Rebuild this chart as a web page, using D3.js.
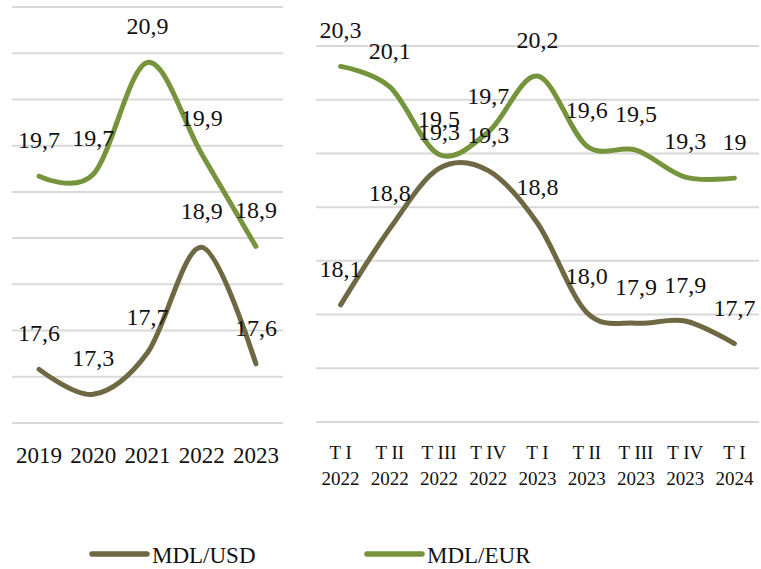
<!DOCTYPE html>
<html><head><meta charset="utf-8">
<script src="https://cdn.jsdelivr.net/npm/d3@7"></script>
<style>html,body{margin:0;padding:0;background:#fff}svg{display:block}</style>
</head><body><div id="chart"></div>
<script>
// ---- data ----
const yearCats = ["2019","2020","2021","2022","2023"];
const yearUSD = [17.58, 17.31, 17.76, 18.90, 17.64];
const yearEUR = [19.67, 19.69, 20.90, 19.91, 18.91];
const yearUSDLabels = ["17,6","17,3","17,7","18,9","17,6"];
const yearEURLabels = ["19,7","19,7","20,9","19,9","18,9"];

const qCats = [["T I","2022"],["T II","2022"],["T III","2022"],["T IV","2022"],["T I","2023"],["T II","2023"],["T III","2023"],["T IV","2023"],["T I","2024"]];
const qUSD = [18.09, 18.80, 19.36, 19.34, 18.85, 18.02, 17.92, 17.94, 17.73];
const qEUR = [20.31, 20.12, 19.49, 19.70, 20.22, 19.57, 19.53, 19.28, 19.27];
const qUSDLabels = ["18,1","18,8","19,3","19,3","18,8","18,0","17,9","17,9","17,7"];
const qEURLabels = ["20,3","20,1","19,5","19,7","20,2","19,6","19,5","19,3","19"];

const leftTicks = [17,17.5,18,18.5,19,19.5,20,20.5,21,21.5];
const rightTicks = [17,17.5,18,18.5,19,19.5,20,20.5];
const seriesNames = ["MDL/USD","MDL/EUR"];
const colors = {"MDL/USD":"#6e6843","MDL/EUR":"#76943c"};

const W = 761, H = 569;
const FONT = "'Liberation Serif', 'Times New Roman', serif";
const svg = d3.select("#chart").append("svg").attr("width",W).attr("height",H)
  .style("font-family",FONT);
svg.append("rect").attr("width",W).attr("height",H).attr("fill","#fff");

function panel(cats, usd, eur, usdL, eurL, ticks, x0, x1, y0, y1, catLabel){
  const x = d3.scaleBand().domain(d3.range(cats.length)).range([x0,x1]).padding(0);
  const y = d3.scaleLinear().domain([ticks[0], ticks[ticks.length-1]]).range([y0,y1]);
  const g = svg.append("g");
  g.selectAll("line.grid").data(ticks).join("line")
    .attr("x1",x0).attr("x2",x1).attr("y1",d=>y(d)).attr("y2",d=>y(d))
    .attr("stroke","#d9d9d9").attr("stroke-width",2);
  const cx = i => x(i)+x.bandwidth()/2;
  const line = d3.line().x((d,i)=>cx(i)).y(d=>y(d)).curve(d3.curveCardinal.tension(0));
  [["MDL/EUR",eur,eurL],["MDL/USD",usd,usdL]].forEach(([n,vals])=>{
    g.append("path").attr("d",line(vals)).attr("fill","none")
      .attr("stroke",colors[n]).attr("stroke-width",5).attr("stroke-linecap","round").attr("stroke-linejoin","round");
  });
  [[eur,eurL],[usd,usdL]].forEach(([vals,labs])=>{
    g.selectAll(null).data(vals).join("text")
      .attr("x",(d,i)=>cx(i)).attr("y",d=>y(d)-28)
      .attr("text-anchor","middle").attr("font-size",24).attr("fill","#111")
      .text((d,i)=>labs[i]);
  });
  catLabel(g, cats, cx);
}

panel(yearCats, yearUSD, yearEUR, yearUSDLabels, yearEURLabels, leftTicks, 12, 283, 423, 7,
  (g,cats,cx)=>{
    g.selectAll(null).data(cats).join("text")
      .attr("x",(d,i)=>cx(i)).attr("y",463).attr("text-anchor","middle")
      .attr("font-size",23).attr("fill","#111").text(d=>d);
  });

panel(qCats, qUSD, qEUR, qUSDLabels, qEURLabels, rightTicks, 316, 759, 422, 46,
  (g,cats,cx)=>{
    const t = g.selectAll(null).data(cats).join("text")
      .attr("text-anchor","middle").attr("font-size",19).attr("fill","#111");
    t.append("tspan").attr("x",(d,i)=>cx(i)).attr("y",459).text(d=>d[0]);
    t.append("tspan").attr("x",(d,i)=>cx(i)).attr("y",485).text(d=>d[1]);
  });

// legend
const legX = [92, 367];
seriesNames.forEach((n,i)=>{
  const lg = svg.append("g");
  lg.append("line").attr("x1",legX[i]).attr("x2",legX[i]+55).attr("y1",554).attr("y2",554)
    .attr("stroke",colors[n]).attr("stroke-width",5.5).attr("stroke-linecap","round");
  lg.append("text").attr("x",legX[i]+60).attr("y",563).attr("font-size",23).attr("fill","#111").text(n);
});
</script></body></html>
